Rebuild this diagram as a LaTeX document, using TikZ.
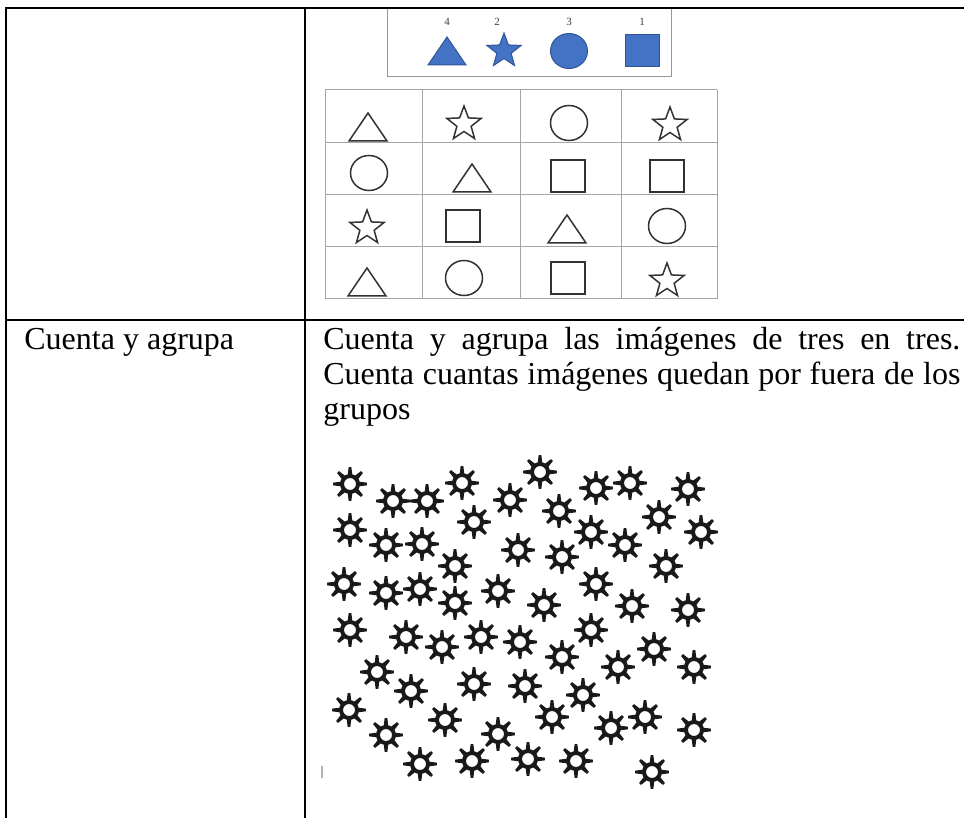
\documentclass[tikz,border=0pt]{standalone}
\usepackage{fontspec}
\setmainfont{Liberation Serif}
\usepackage{xcolor}
\usetikzlibrary{positioning}

\definecolor{legendblue}{RGB}{68,114,196}
\definecolor{legendedge}{RGB}{47,85,151}
\definecolor{gridgray}{RGB}{165,165,165}
\definecolor{boxgray}{RGB}{150,150,150}
\definecolor{shapegray}{RGB}{50,50,50}
\definecolor{ink}{RGB}{25,25,25}

\begin{document}
\begin{tikzpicture}[x=0.5pt, y=-0.5pt,
    tableline/.style={line width=1.3pt, black},
    gridline/.style={line width=0.5pt, gridgray},
    outline/.style={draw=shapegray, line width=0.75pt},
    bluefill/.style={fill=legendblue, draw=legendedge, line width=0.5pt},
    celltext/.style={anchor=base west, inner sep=0pt, font=\fontsize{16}{17.5}\selectfont},
    count/.style={inner sep=0pt, font=\fontsize{5.5}{6}\selectfont, text=darkgray},
    tri/.pic={\path[#1] (-19,14) -- (19,14) -- (0,-14) -- cycle;},
    sq/.pic={\path[#1] (-17,-16) rectangle (17,16);},
    ring/.pic={\path[#1] (0,0) ellipse (18.5 and 17.5);},
    starshape/.pic={\path[#1] (-90:18) \foreach \k in {1,...,9} {-- ({-90+36*\k}:{ifthenelse(isodd(\k),7.5,18)})} -- cycle;},
    sun/.pic={
        \fill[ink, even odd rule] (0,0) circle (10) (0,0) circle (6);
        \foreach \a in {0,45,...,315}
            \fill[ink] ({\a-14}:9.5) -- ({\a-4.5}:17) -- ({\a+4.5}:17) -- ({\a+14}:9.5) -- cycle;
    }
]
\useasboundingbox (0,0) rectangle (964,818);

% Legend box
\draw[boxgray, line width=0.5pt] (387,8) rectangle (671,77);
\node[count] (n4) at (447,22) {4};
\node[count] (n2) at (497,22) {2};
\node[count] (n3) at (569,22) {3};
\node[count] (n1) at (642,22) {1};
\pic at (447,51) {tri=bluefill};
\pic at (504,51) {starshape=bluefill};
\pic at (569,51) {ring=bluefill};
\pic at (642,51) {sq=bluefill};

% Grid of shapes
\foreach \gx in {325,422,520,621,717}
    \draw[gridline] (\gx,90) -- (\gx,299);
\foreach \gy in {90,143,195,247,299}
    \draw[gridline] (325,\gy) -- (717,\gy);

% Row 1
\pic at (368,127) {tri=outline};
\pic at (464,124) {starshape=outline};
\pic at (569,123) {ring=outline};
\pic at (670,125) {starshape=outline};
% Row 2
\pic at (369,173) {ring=outline};
\pic at (472,178) {tri=outline};
\pic at (568,176) {sq=outline};
\pic at (667,176) {sq=outline};
% Row 3
\pic at (367,228) {starshape=outline};
\pic at (463,226) {sq=outline};
\pic at (567,229) {tri=outline};
\pic at (667,226) {ring=outline};
% Row 4
\pic at (367,282) {tri=outline};
\pic at (464,278) {ring=outline};
\pic at (568,278) {sq=outline};
\pic at (667,281) {starshape=outline};

% Text row
\node[celltext] (task) at (24,350) {Cuenta y agrupa};
\node[celltext, text width=318.5pt, align=justify] (instructions) at (323,350)
    {Cuenta y agrupa las imágenes de tres en tres.\linebreak
     Cuenta cuantas imágenes quedan por fuera de los\linebreak
     grupos};

% Suns to count
\foreach \sx/\sy in {350/484, 393/501, 427/501, 462/483, 510/500, 540/472,
    559/511, 596/488, 630/483, 688/489, 659/517, 701/532, 474/522, 350/530,
    386/545, 422/544, 518/550, 591/532, 562/557, 625/545, 666/566, 455/566,
    344/584, 386/593, 420/589, 455/603, 498/591, 544/605, 596/584, 632/606,
    688/610, 350/630, 406/637, 442/647, 481/637, 520/642, 562/657, 591/630,
    654/649, 618/667, 694/667, 377/672, 411/691, 474/684, 525/686, 583/695,
    349/710, 445/720, 552/717, 611/728, 645/717, 694/730, 386/735, 498/734,
    420/764, 472/761, 528/759, 576/761, 652/772}
    \pic at (\sx,\sy) {sun};
\draw[gray!60, line width=1pt] (322,766) -- (322,778);

% Table rules
\draw[tableline] (5,8) -- (964,8);
\draw[tableline] (6,320) -- (964,320);
\draw[tableline] (6,8) -- (6,818);
\draw[tableline] (305,8) -- (305,818);

\end{tikzpicture}
\end{document}
